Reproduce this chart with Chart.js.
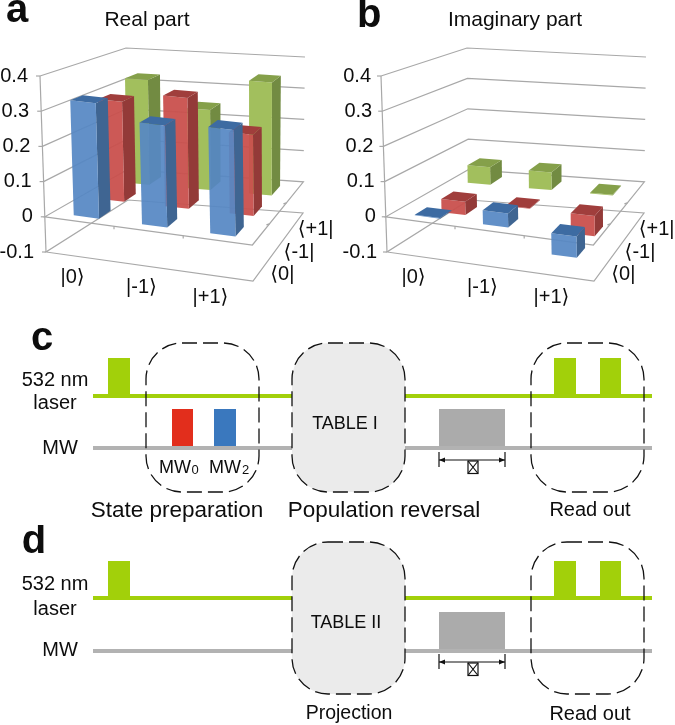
<!DOCTYPE html>
<html>
<head>
<meta charset="utf-8">
<script src="https://cdn.jsdelivr.net/npm/chart.js@4"></script>
<style>
  html, body { margin: 0; background: #fff; }
  canvas { position: absolute; }
</style>
</head>
<body>
<canvas id="chartA" width="335" height="320" style="left:0;top:0"></canvas>
<canvas id="chartB" width="334" height="320" style="left:341px;top:0"></canvas>
<canvas id="chartC" width="675" height="205" style="left:0;top:320px"></canvas>
<canvas id="chartD" width="675" height="200" style="left:0;top:525px"></canvas>
<script>
const kets = ['|0\u27E9', '|-1\u27E9', '|+1\u27E9'];
const bras = ['\u27E80|', '\u27E8-1|', '\u27E8+1|'];

const realZero = [0.33, 0.29, 0.30];
const realMinusOne = [0.30, 0.33, 0.24];
const realPlusOne = [0.33, 0.25, 0.35];

const imagZero = [0.002, 0.04, -0.06];
const imagMinusOne = [-0.04, 0.002, -0.06];
const imagPlusOne = [0.055, 0.055, 0.002];

// timing diagrams, x in time units across the page
const traceSpan = [93, 652];
const laserPulses = [[108, 130], [554, 576], [600, 621]];
const mw0Pulse = [172, 193];
const mw2Pulse = [214, 236];
const freePulse = [439, 505];
const prepBox = [146, 259];
const tableBox = [292, 405];
const readBox = [531, 644];

const FONT = '"Liberation Sans", "DejaVu Sans", sans-serif';
const BLUE = { front: 'rgba(86,136,196,0.93)', side: '#3f6592', top: '#3d6ba2' };
const RED = { front: 'rgba(201,80,77,0.95)', side: '#933a38', top: '#a03e3c' };
const GREEN = { front: '#a2bf5d', side: '#728b42', top: '#85a04a' };
const GRID = '#a8a8a8';

// corners of the plot box in the canvas: [bottom, top] of each upright edge
const cube = {
  fl: [[46, 252], [40, 76]],
  fr: [[253, 281], [250, 101]],
  br: [[303, 213], [305, 57]],
  bl: [[128, 200], [126, 48]]
};

const mix = (a, b, t) => [a[0] + (b[0] - a[0]) * t, a[1] + (b[1] - a[1]) * t];

function project(chart, col, row, value) {
  const { x, z, y } = chart.scales;
  const u = (x.getPixelForValue(col) - x.left) / x.width;
  const w = (z.getPixelForValue(row) - z.left) / z.width;
  const t = (y.bottom - y.getPixelForValue(value)) / (y.bottom - y.top);
  const front = mix(mix(cube.fl[0], cube.fl[1], t), mix(cube.fr[0], cube.fr[1], t), u);
  const back = mix(mix(cube.bl[0], cube.bl[1], t), mix(cube.br[0], cube.br[1], t), u);
  return mix(front, back, w);
}

function poly(ctx, pts, fill) {
  ctx.beginPath();
  pts.forEach((p, i) => i ? ctx.lineTo(p[0], p[1]) : ctx.moveTo(p[0], p[1]));
  if (fill) {
    ctx.closePath();
    ctx.fillStyle = fill;
    ctx.fill();
  } else {
    ctx.stroke();
  }
}

function put(ctx, text, px, py, size, weight, align) {
  ctx.font = (weight || 'normal') + ' ' + size + 'px ' + FONT;
  ctx.textAlign = align || 'center';
  ctx.textBaseline = 'middle';
  ctx.fillStyle = '#0d0d0d';
  ctx.fillText(text, px, py);
}

function drawBox(chart) {
  const ctx = chart.ctx;
  const lo = -0.5, hi = 2.5;
  ctx.strokeStyle = GRID;
  ctx.lineWidth = 1.2;
  [0.1, 0.2, 0.3, 0.4].forEach(v => {
    poly(ctx, [project(chart, lo, lo, v), project(chart, lo, hi, v), project(chart, hi, hi, v)]);
  });
  [-0.1, 0].forEach(v => {
    poly(ctx, [project(chart, lo, hi, v), project(chart, hi, hi, v), project(chart, hi, lo, v),
      project(chart, lo, lo, v), project(chart, lo, hi, v)]);
  });
  poly(ctx, [project(chart, lo, lo, -0.1), project(chart, lo, lo, 0.4)]);
  // tick marks
  [-0.1, 0, 0.1, 0.2, 0.3, 0.4].forEach(v => {
    const p = project(chart, lo, lo, v);
    poly(ctx, [[p[0] - 4, p[1]], p]);
  });
  [0.5, 1.5].forEach(c => {
    const p = project(chart, c, lo, 0);
    poly(ctx, [p, [p[0], p[1] + 3]]);
    const q = project(chart, 2.5, c, 0);
    poly(ctx, [q, [q[0] - 3, q[1] + 1]]);
  });
}

function drawBars(chart) {
  const ctx = chart.ctx;
  const halfX = 0.185, halfZ = 0.23;
  // back row first so the front rows cover it
  for (let row = chart.data.datasets.length - 1; row >= 0; row--) {
    const ds = chart.data.datasets[row];
    ds.data.forEach((val, col) => {
      const low = Math.min(0, val), high = Math.max(0, val);
      const c0 = col - halfX, c1 = col + halfX, r0 = row - halfZ, r1 = row + halfZ;
      poly(ctx, [project(chart, c1, r0, low), project(chart, c1, r1, low),
        project(chart, c1, r1, high), project(chart, c1, r0, high)], ds.colors.side);
      poly(ctx, [project(chart, c0, r0, low), project(chart, c1, r0, low),
        project(chart, c1, r0, high), project(chart, c0, r0, high)], ds.colors.front);
      poly(ctx, [project(chart, c0, r0, high), project(chart, c1, r0, high),
        project(chart, c1, r1, high), project(chart, c0, r1, high)], ds.colors.top);
    });
  }
}

function matrixChart(id, title, titleX, letter, letterX, letterY, labelGap, zero, minusOne, plusOne) {
  const plugin = {
    id: 'matrix3d',
    beforeDatasetsDraw(chart) {
      const ctx = chart.ctx;
      const y = chart.scales.y;
      drawBox(chart);
      drawBars(chart);
      // value labels follow the slanted front edge
      y.ticks.forEach(t => {
        const p = project(chart, -0.5, -0.5, t.value);
        put(ctx, t.label, p[0] - labelGap, y.getPixelForValue(t.value), 20, 'normal', 'right');
      });
      kets.forEach((k, i) => {
        const p = project(chart, i, -0.5, -0.1);
        put(ctx, k, p[0] - 8, p[1] + 21, 20);
      });
      bras.forEach((b, i) => {
        const p = project(chart, 2.5, i, -0.1);
        put(ctx, b, p[0] + 21, p[1] + 5, 20);
      });
      put(ctx, title, titleX, 20, 21);
      put(ctx, letter, letterX, letterY, 40, 'bold', 'left');
      return false; // the bars above replace the flat ones
    }
  };
  return new Chart(document.getElementById(id), {
    type: 'bar',
    data: {
      labels: kets,
      datasets: [
        { label: bras[0], data: zero, colors: BLUE, backgroundColor: BLUE.front },
        { label: bras[1], data: minusOne, colors: RED, backgroundColor: RED.front },
        { label: bras[2], data: plusOne, colors: GREEN, backgroundColor: GREEN.front }
      ]
    },
    options: {
      responsive: false,
      animation: false,
      devicePixelRatio: 1,
      layout: { padding: { top: 76, bottom: 320 - 252, right: id === 'chartA' ? 82 : 81 } },
      plugins: { legend: { display: false }, tooltip: { enabled: false } },
      scales: {
        x: { display: false },
        z: { type: 'category', axis: 'x', position: 'bottom', labels: bras, offset: true, display: false },
        y: {
          min: -0.1,
          max: 0.4,
          afterFit(scale) { scale.width = 46; },
          grid: { display: false, drawTicks: false },
          border: { display: false },
          ticks: { stepSize: 0.1, display: false }
        }
      }
    },
    plugins: [plugin]
  });
}

function pulseTrace(pulses, base, top) {
  const pts = [{ x: traceSpan[0], y: base }];
  pulses.forEach(p => {
    pts.push({ x: p[0], y: base }, { x: p[0], y: top }, { x: p[1], y: top }, { x: p[1], y: base });
  });
  pts.push({ x: traceSpan[1], y: base });
  return pts;
}

function lineSet(pts, color, width, base) {
  return {
    data: pts,
    borderColor: color,
    borderWidth: width,
    backgroundColor: color,
    pointRadius: 0,
    tension: 0,
    fill: base === undefined ? false : { value: base }
  };
}

function timingChart(id, cfg) {
  const plugin = {
    id: 'timing',
    afterDatasetsDraw(chart) {
      const ctx = chart.ctx;
      const { x, y } = chart.scales;
      const top = y.getPixelForValue(cfg.boxTop), bottom = y.getPixelForValue(cfg.boxBottom);
      ctx.save();
      [prepBox, tableBox, readBox].forEach(b => {
        if (b === prepBox && !cfg.showPrep) return;
        const left = x.getPixelForValue(b[0]), right = x.getPixelForValue(b[1]);
        ctx.beginPath();
        ctx.roundRect(left, top, right - left, bottom - top, 36);
        if (b === tableBox) {
          ctx.fillStyle = '#ebebeb';
          ctx.fill();
        }
        ctx.setLineDash([15, 6]);
        ctx.lineWidth = 1.3;
        ctx.strokeStyle = '#111';
        ctx.stroke();
      });
      ctx.restore();

      // delay bracket under the free evolution pulse
      const a = x.getPixelForValue(freePulse[0]), b = x.getPixelForValue(freePulse[1]);
      const my = y.getPixelForValue(cfg.mwBase) + cfg.bracketDrop;
      ctx.strokeStyle = '#111';
      ctx.lineWidth = 1.2;
      poly(ctx, [[a, my - 8], [a, my + 7]]);
      poly(ctx, [[b, my - 8], [b, my + 7]]);
      poly(ctx, [[a, my], [b, my]]);
      poly(ctx, [[a, my], [a + 6, my - 2.5], [a + 6, my + 2.5]], '#111');
      poly(ctx, [[b, my], [b - 6, my - 2.5], [b - 6, my + 2.5]], '#111');
      const bx = (a + b) / 2 - 4, by = my + 1;
      ctx.strokeRect(bx, by, 10, 12.5);
      poly(ctx, [[bx, by], [bx + 10, by + 12.5]]);
      poly(ctx, [[bx + 10, by], [bx, by + 12.5]]);

      cfg.labels.forEach(l => put(ctx, l[0], l[1], l[2], l[3], l[4]));
      if (cfg.showPrep) {
        const ly = 468 - 320;
        put(ctx, 'MW', 159, ly, 18, 'normal', 'left');
        put(ctx, '0', 191.5, ly + 2, 13, 'normal', 'left');
        put(ctx, 'MW', 209, ly, 18, 'normal', 'left');
        put(ctx, '2', 242, ly + 2, 13, 'normal', 'left');
      }
    }
  };
  const traces = [
    lineSet(pulseTrace(laserPulses, cfg.laserBase, cfg.laserTop), '#a2d00a', 0, cfg.laserBase),
    lineSet(traceSpan.map(v => ({ x: v, y: cfg.laserBase })), '#a2d00a', 4),
    lineSet(traceSpan.map(v => ({ x: v, y: cfg.mwBase })), '#b2b2b2', 4),
    lineSet(pulseTrace([freePulse], cfg.mwBase, cfg.mwTop), '#ababab', 0, cfg.mwBase)
  ];
  if (cfg.showPrep) {
    traces.push(lineSet(pulseTrace([mw0Pulse], cfg.mwBase, cfg.mwTop), '#e22e1c', 0, cfg.mwBase));
    traces.push(lineSet(pulseTrace([mw2Pulse], cfg.mwBase, cfg.mwTop), '#3a78be', 0, cfg.mwBase));
  }
  return new Chart(document.getElementById(id), {
    type: 'line',
    data: { datasets: traces },
    options: {
      responsive: false,
      animation: false,
      devicePixelRatio: 1,
      plugins: { legend: { display: false }, tooltip: { enabled: false } },
      scales: {
        x: { type: 'linear', min: 0, max: 675, display: false },
        y: { min: 0, max: cfg.height, display: false }
      }
    },
    plugins: [plugin]
  });
}

matrixChart('chartA', 'Real part', 147, 'a', 6, 11, 12, realZero, realMinusOne, realPlusOne);
matrixChart('chartB', 'Imaginary part', 174, 'b', 16, 16, 10, imagZero, imagMinusOne, imagPlusOne);

timingChart('chartC', {
  height: 205, laserBase: 129, laserTop: 167, mwBase: 77, mwTop: 116,
  boxTop: 182, boxBottom: 33, bracketDrop: 12, showPrep: true,
  labels: [
    ['c', 42, 19, 40, 'bold'],
    ['532 nm', 55, 60, 20], ['laser', 55, 83, 20], ['MW', 60, 128, 20],
    ['TABLE I', 345, 104, 18],
    ['State preparation', 177, 191, 22.5], ['Population reversal', 384, 191, 22.5], ['Read out', 590, 190, 20]
  ]
});

timingChart('chartD', {
  height: 200, laserBase: 127, laserTop: 164, mwBase: 74, mwTop: 113,
  boxTop: 183, boxBottom: 31, bracketDrop: 11, showPrep: false,
  labels: [
    ['d', 34, 17, 40, 'bold'],
    ['532 nm', 55, 59, 20], ['laser', 55, 84, 20], ['MW', 60, 125, 20],
    ['TABLE II', 346, 98, 18],
    ['Projection', 349, 189, 19.5], ['Read out', 590, 189, 20]
  ]
});
</script>
</body>
</html>
